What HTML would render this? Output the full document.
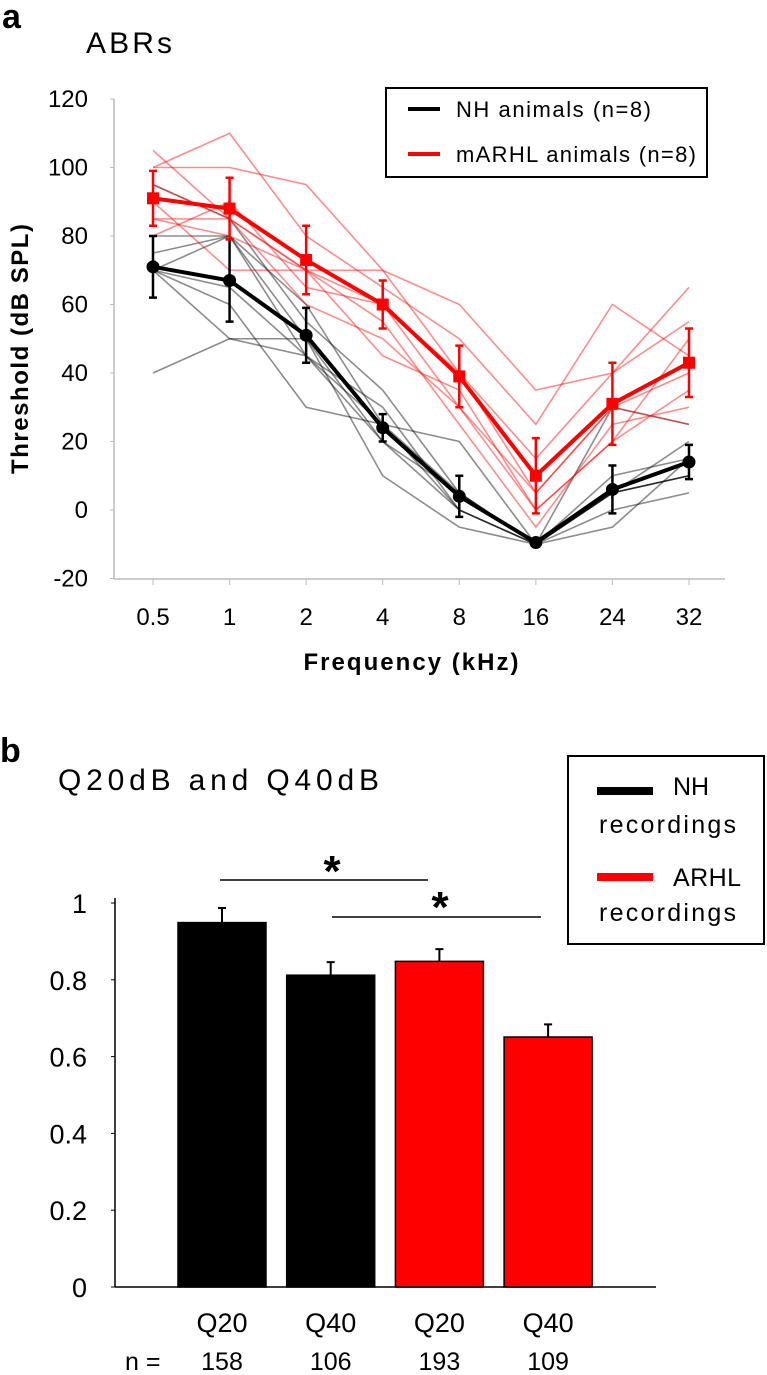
<!DOCTYPE html>
<html><head><meta charset="utf-8"><style>
html,body{margin:0;padding:0;background:#fff;}
svg{display:block;font-family:"Liberation Sans",sans-serif;}
</style></head><body>
<svg id="fig" width="767" height="1375" viewBox="0 0 767 1375" xmlns="http://www.w3.org/2000/svg">
<g id="pa">
<text x="2" y="28" font-size="34" font-weight="bold">a</text>
<text x="86" y="53" font-size="30" textLength="86">ABRs</text>
<line x1="114" y1="99" x2="114" y2="579" stroke="#bbb" stroke-width="1.5"/>
<line x1="114" y1="579" x2="725" y2="579" stroke="#bbb" stroke-width="1.5"/>
<text transform="translate(28,349) rotate(-90)" text-anchor="middle" font-size="24" font-weight="bold" textLength="250">Threshold (dB SPL)</text>
<text x="411" y="670" text-anchor="middle" font-size="24" font-weight="bold" textLength="215">Frequency (kHz)</text>
<g id="pa-ticks"></g>
<g id="pa-ind"></g>
<g id="pa-mean"></g>
<rect x="386" y="88" width="321" height="89" fill="#fff" stroke="#000" stroke-width="2"/>
<line x1="408" y1="109" x2="440" y2="109" stroke="#000" stroke-width="4"/>
<text x="456" y="117" font-size="22" textLength="195">NH  animals (n=8)</text>
<line x1="408" y1="154" x2="440" y2="154" stroke="#f00" stroke-width="4"/>
<text x="456" y="162" font-size="22" textLength="240">mARHL  animals (n=8)</text>
</g>
<g id="pb">
<text x="0" y="762" font-size="34" font-weight="bold">b</text>
<text x="58" y="790" font-size="30" textLength="321">Q20dB and Q40dB</text>
<line x1="115" y1="898" x2="115" y2="1287" stroke="#000" stroke-width="1.5"/>
<line x1="115" y1="1287" x2="656" y2="1287" stroke="#000" stroke-width="1.5"/>
<g id="pb-ticks"></g>
<g id="pb-bars"></g>
<line x1="220" y1="880" x2="428" y2="880" stroke="#000" stroke-width="1.5"/>
<text x="332" y="886" text-anchor="middle" font-size="44" font-weight="bold">*</text>
<line x1="332" y1="917" x2="541" y2="917" stroke="#000" stroke-width="1.5"/>
<text x="440" y="922" text-anchor="middle" font-size="44" font-weight="bold">*</text>
<text x="125" y="1370" font-size="25">n =</text>
<rect x="568" y="756" width="196" height="188" fill="#fff" stroke="#000" stroke-width="2"/>
<rect x="597" y="787" width="56" height="8" fill="#000"/>
<text x="673" y="795" font-size="25">NH</text>
<text x="599" y="833" font-size="25" textLength="137">recordings</text>
<rect x="597" y="873" width="56" height="8" fill="#f00"/>
<text x="673" y="886" font-size="25" textLength="68">ARHL</text>
<text x="599" y="921" font-size="25" textLength="137">recordings</text>
</g>
</svg>
<script>
// Panel a data
const freqLabels = ["0.5","1","2","4","8","16","24","32"];
const yTicksA = [120,100,80,60,40,20,0,-20];
const nhMean = [71,67,51,24,4,-9.5,6,14];
const nhErr = [9,12,8,4,6,1,7,5];
const arhlMean = [91,88,73,60,39,10,31,43];
const arhlErr = [8,9,10,7,9,11,12,10];
const nhIndividuals = [
 [40,50,45,25,0,-10,5,10],
 [75,80,60,25,5,-10,30,25],
 [70,50,50,10,-5,-10,5,10],
 [70,80,45,20,0,-10,0,5],
 [70,60,30,25,20,-10,5,10],
 [95,85,55,35,5,-10,10,15],
 [80,80,50,20,5,-10,5,20],
 [70,65,45,30,0,-10,-5,15]
];
const arhlIndividuals = [
 [105,85,70,70,60,35,40,55],
 [100,110,80,65,50,25,60,45],
 [100,100,95,70,40,15,40,65],
 [85,80,70,60,30,5,30,40],
 [85,85,70,45,35,0,20,35],
 [90,70,70,55,25,-5,25,30],
 [80,90,65,60,40,5,30,25],
 [95,85,60,50,30,0,20,50]
];
// Panel b data
const qCategories = ["Q20","Q40","Q20","Q40"];
const qValues = [0.949,0.812,0.848,0.651];
const qErr = [0.038,0.034,0.032,0.033];
const qN = ["158","106","193","109"];
const qGroups = ["NH","NH","ARHL","ARHL"];
const yTicksB = [1,0.8,0.6,0.4,0.2,0];
const yTickLabelsB = ["1","0.8","0.6","0.4","0.2","0"];

const NS="http://www.w3.org/2000/svg";
function mk(tag,attrs,parent){const e=document.createElementNS(NS,tag);for(const k in attrs)e.setAttribute(k,attrs[k]);parent.appendChild(e);return e;}
const xA=i=>153+i*76.57;
const yA=v=>510-v*3.425;
const yB=v=>1287-v*384;
const xB=i=>222+i*108.7;

const ta=document.getElementById('pa-ticks');
yTicksA.forEach(v=>{
  const t=mk('text',{x:88,y:yA(v)+8,'text-anchor':'end','font-size':24},ta);t.textContent=String(v);
  
  
  const l=mk('line',{x1:110,x2:114,y1:yA(v),y2:yA(v),stroke:'#bbb'},ta);
  
  
});
freqLabels.forEach((f,i)=>{
  const t=mk('text',{x:xA(i),y:625,'text-anchor':'middle','font-size':24},ta);t.textContent=f;
  
  
  const l=mk('line',{x1:xA(i),x2:xA(i),y1:579,y2:585,stroke:'#bbb'},ta);
  
  
});
const ind=document.getElementById('pa-ind');
function pts(arr){return arr.map((v,i)=>xA(i)+','+yA(v)).join(' ');}
nhIndividuals.forEach(s=>{
  const p=mk('polyline',{points:pts(s),fill:'none',stroke:'#000','stroke-opacity':0.45,'stroke-width':1.6},ind);
  
  
});
arhlIndividuals.forEach(s=>{
  const p=mk('polyline',{points:pts(s),fill:'none',stroke:'#f00','stroke-opacity':0.45,'stroke-width':1.6},ind);
  
  
});
const mg=document.getElementById('pa-mean');
function meanSeries(m,e,col,square,name){
  m.forEach((v,i)=>{
    const x=xA(i),y1=yA(v+e[i]),y2=yA(v-e[i]);
    const eb=mk('path',{d:`M${x},${y1}V${y2}M${x-4},${y1}H${x+4}M${x-4},${y2}H${x+4}`,stroke:col,'stroke-width':2.5,fill:'none'},mg);
    
    
  });
  const p=mk('polyline',{points:pts(m),fill:'none',stroke:col,'stroke-width':4},mg);
  
  
  m.forEach((v,i)=>{
    let mkEl;
    if(square) mkEl=mk('rect',{x:xA(i)-6,y:yA(v)-6,width:12,height:12,fill:col},mg);
    else mkEl=mk('circle',{cx:xA(i),cy:yA(v),r:6.5,fill:col},mg);
    
    
  });
}
meanSeries(nhMean,nhErr,'#000',false,'nh');
meanSeries(arhlMean,arhlErr,'#f00',true,'arhl');

const tb=document.getElementById('pb-ticks');
yTicksB.forEach((v,i)=>{
  const t=mk('text',{x:87,y:yB(v)+10,'text-anchor':'end','font-size':27},tb);t.textContent=yTickLabelsB[i];
  
  
  const l=mk('line',{x1:111,x2:115,y1:yB(v),y2:yB(v),stroke:'#000'},tb);
  
  
});
const bb=document.getElementById('pb-bars');
qValues.forEach((v,i)=>{
  const col=qGroups[i]==='NH'?'#000':'#f00';
  const x=xB(i);
  const e=mk('path',{d:`M${x},${yB(v)}V${yB(v+qErr[i])}M${x-4},${yB(v+qErr[i])}H${x+4}`,stroke:'#000','stroke-width':2},bb);
  
  
  const r=mk('rect',{x:x-44,y:yB(v),width:88,height:yB(0)-yB(v),fill:col,stroke:'#000','stroke-width':1.5},bb);
  
  
  const t=mk('text',{x:x,y:1332,'text-anchor':'middle','font-size':27},bb);t.textContent=qCategories[i];
  
  
  const n=mk('text',{x:x,y:1370,'text-anchor':'middle','font-size':25},bb);n.textContent=qN[i];
  
  
});
</script>
</body></html>
